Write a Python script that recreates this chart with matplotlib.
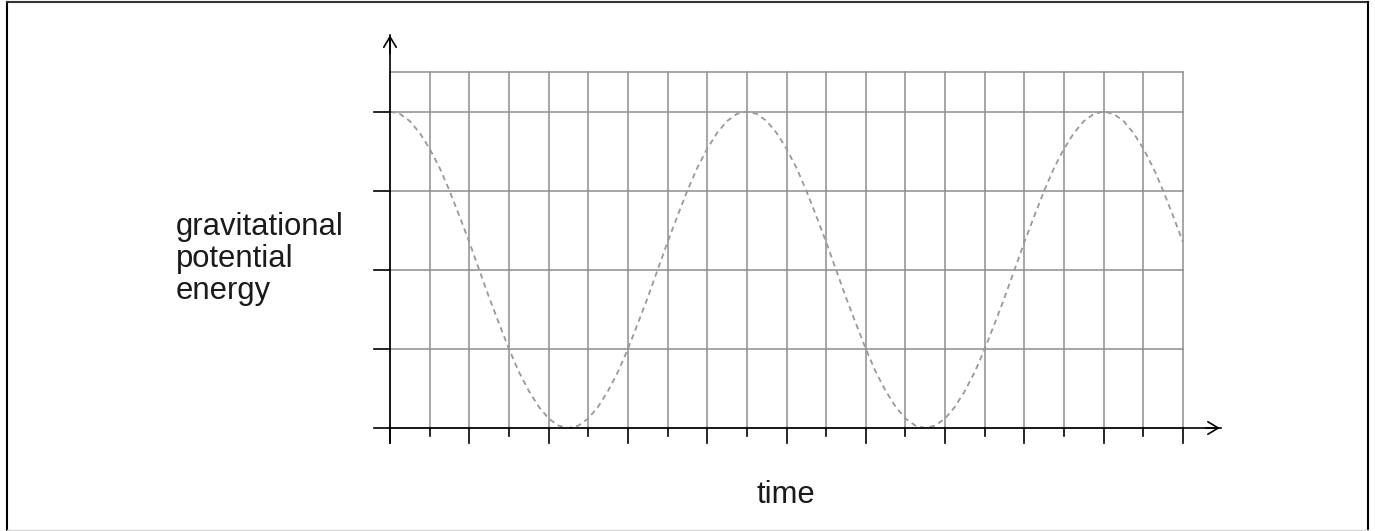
import matplotlib.pyplot as plt
from matplotlib.lines import Line2D

W, H = 1375, 531

# grid: 20 columns, 4.5 rows of height
n_cols = 20
row_lines = [0, 1, 2, 3, 4, 4.5]
y_ticks = [1, 2, 3, 4]

# potential energy curve (every quarter column)
t = [0, 0.25, 0.5, 0.75, 1, 1.25, 1.5, 1.75, 2, 2.25, 2.5, 2.75, 3, 3.25, 3.5, 3.75,
     4, 4.25, 4.5, 4.75, 5, 5.25, 5.5, 5.75, 6, 6.25, 6.5, 6.75, 7, 7.25, 7.5, 7.75,
     8, 8.25, 8.5, 8.75, 9, 9.25, 9.5, 9.75, 10, 10.25, 10.5, 10.75, 11, 11.25, 11.5,
     11.75, 12, 12.25, 12.5, 12.75, 13, 13.25, 13.5, 13.75, 14, 14.25, 14.5, 14.75,
     15, 15.25, 15.5, 15.75, 16, 16.25, 16.5, 16.75, 17, 17.25, 17.5, 17.75, 18,
     18.25, 18.5, 18.75, 19, 19.25, 19.5, 19.75, 20]
pe = [4.00, 3.97, 3.88, 3.73, 3.53, 3.29, 3.00, 2.68, 2.35, 2.00, 1.65, 1.32, 1.00,
      0.71, 0.47, 0.27, 0.12, 0.03, 0.00,
      0.03, 0.12, 0.27, 0.47, 0.71, 1.00, 1.32, 1.65, 2.00, 2.35, 2.68, 3.00, 3.29,
      3.53, 3.73, 3.88, 3.97,
      4.00, 3.97, 3.88, 3.73, 3.53, 3.29, 3.00, 2.68, 2.35, 2.00, 1.65, 1.32, 1.00,
      0.71, 0.47, 0.27, 0.12, 0.03, 0.00,
      0.03, 0.12, 0.27, 0.47, 0.71, 1.00, 1.32, 1.65, 2.00, 2.35, 2.68, 3.00, 3.29,
      3.53, 3.73, 3.88, 3.97,
      4.00, 3.97, 3.88, 3.73, 3.53, 3.29, 3.00, 2.68, 2.35]

plt.rcParams['font.family'] = ['Liberation Sans', 'DejaVu Sans']

fig = plt.figure(figsize=(W / 100, H / 100), dpi=100)
ax = fig.add_axes([390 / W, (H - 428) / H, 793 / W, 356 / H])
ax.set_xlim(0, n_cols)
ax.set_ylim(0, 4.5)
ax.axis('off')

grid_col = '#8e8e8e'
for i in range(n_cols + 1):
    ax.plot([i, i], [0, 4.5], color=grid_col, lw=1.1, clip_on=False, zorder=1)
for r in row_lines:
    ax.plot([0, n_cols], [r, r], color=grid_col, lw=1.1, clip_on=False, zorder=1)

# dashed curve
ax.plot(t, pe, color='#999999', lw=1.3, linestyle=(0, (3.0, 2.3)), clip_on=False, zorder=2)

# axes with arrows
ax.plot([-0.4, 20.95], [0, 0], color='black', lw=1.2, clip_on=False, zorder=3)
ax.plot([0, 0], [-0.19, 4.97], color='black', lw=1.2, clip_on=False, zorder=3)
ax.annotate('', xy=(21, 0), xytext=(20.5, 0),
            arrowprops=dict(arrowstyle='->,head_length=0.75,head_width=0.45', color='black', lw=1.2),
            annotation_clip=False)
ax.annotate('', xy=(0, 5.0), xytext=(0, 4.7),
            arrowprops=dict(arrowstyle='->,head_length=0.75,head_width=0.45', color='black', lw=1.2),
            annotation_clip=False)

# tick marks
for i in range(n_cols + 1):
    ln = 0.19 if i % 2 == 0 else 0.1
    ax.plot([i, i], [0, -ln], color='black', lw=1.2, clip_on=False, zorder=3)
for yv in y_ticks:
    ax.plot([-0.4, 0], [yv, yv], color='black', lw=1.2, clip_on=False, zorder=3)

fig.text(176 / W, (H - 259) / H, 'gravitational\npotential\nenergy', fontsize=22.3,
         ha='left', va='center', linespacing=1.1, color='#1a1a1a')
fig.text(786 / W, (H - 495) / H, 'time', fontsize=22.3, ha='center', va='center', color='#1a1a1a')

# frame around picture
fig.add_artist(Line2D([6.5 / W, 6.5 / W], [0, 1 - 1.5 / H], color='black', lw=1.5))
fig.add_artist(Line2D([6.5 / W, 1367.5 / W], [1 - 1.5 / H, 1 - 1.5 / H], color='#333333', lw=1.5))
fig.add_artist(Line2D([1367.5 / W, 1367.5 / W], [0, 1 - 1.5 / H], color='black', lw=1.5))
fig.add_artist(Line2D([6.5 / W, 1367.5 / W], [0.8 / H, 0.8 / H], color='#d8d8d8', lw=1.0))

fig.savefig('out.png', dpi=100)
